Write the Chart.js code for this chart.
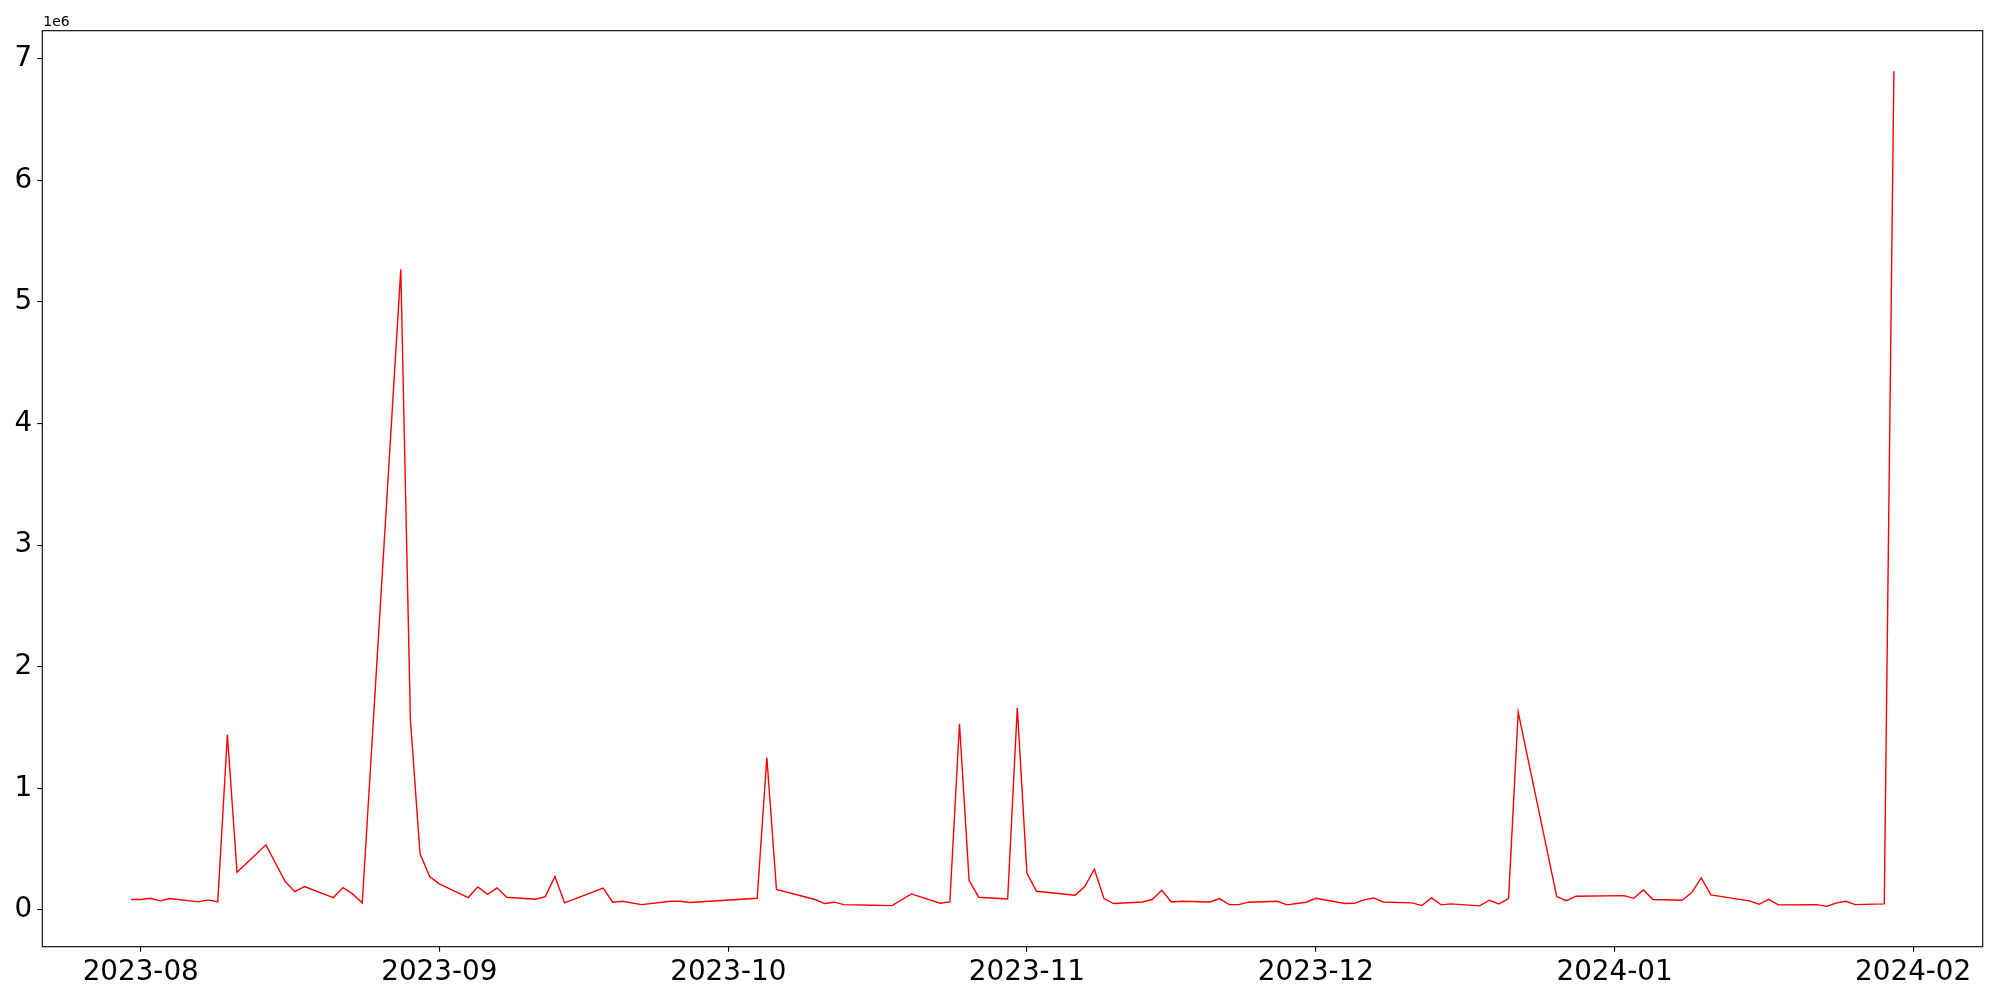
<!DOCTYPE html>
<html>
<head>
<meta charset="utf-8">
<script src="https://cdn.jsdelivr.net/npm/chart.js@4"></script>
<style>
    body { margin: 0; background: #fff; }
    #wrap { width: 2000px; height: 1000px; position: relative; }
</style>
</head>
<body>
<div id="wrap"><canvas id="volumeChart"></canvas></div>
<script>
// trading days
const dates = [
    '2023-07-31','2023-08-01','2023-08-02','2023-08-03','2023-08-04','2023-08-07','2023-08-08','2023-08-09',
    '2023-08-10','2023-08-11','2023-08-14','2023-08-16','2023-08-17','2023-08-18','2023-08-21','2023-08-22',
    '2023-08-23','2023-08-24','2023-08-28','2023-08-29','2023-08-30','2023-08-31','2023-09-01','2023-09-04',
    '2023-09-05','2023-09-06','2023-09-07','2023-09-08','2023-09-11','2023-09-12','2023-09-13','2023-09-14',
    '2023-09-18','2023-09-19','2023-09-20','2023-09-22','2023-09-25','2023-09-26','2023-09-27','2023-10-04',
    '2023-10-05','2023-10-06','2023-10-10','2023-10-11','2023-10-12','2023-10-13','2023-10-16','2023-10-18',
    '2023-10-20','2023-10-23','2023-10-24','2023-10-25','2023-10-26','2023-10-27','2023-10-30','2023-10-31',
    '2023-11-01','2023-11-02','2023-11-06','2023-11-07','2023-11-08','2023-11-09','2023-11-10','2023-11-13',
    '2023-11-14','2023-11-15','2023-11-16','2023-11-17','2023-11-20','2023-11-21','2023-11-22','2023-11-23',
    '2023-11-24','2023-11-27','2023-11-28','2023-11-29','2023-11-30','2023-12-01','2023-12-04','2023-12-05',
    '2023-12-06','2023-12-07','2023-12-08','2023-12-11','2023-12-12','2023-12-13','2023-12-14','2023-12-15',
    '2023-12-18','2023-12-19','2023-12-20','2023-12-21','2023-12-22','2023-12-26','2023-12-27','2023-12-28',
    '2024-01-02','2024-01-03','2024-01-04','2024-01-05','2024-01-08','2024-01-09','2024-01-10','2024-01-11',
    '2024-01-15','2024-01-16','2024-01-17','2024-01-18','2024-01-22','2024-01-23','2024-01-24','2024-01-25',
    '2024-01-26','2024-01-29','2024-01-30'
];

const volumes = [
    86000, 86000, 96000, 75000, 94000, 67000, 83000, 67000,
    1441000, 310000, 536000, 234000, 151000, 193000, 102000, 184000,
    132000, 58000, 5268000, 1560000, 462000, 275000, 215000, 102000,
    190000, 129000, 182000, 105000, 88000, 110000, 275000, 58000,
    179000, 64000, 72000, 44000, 72000, 72000, 61000, 96000,
    1254000, 168000, 86000, 53000, 64000, 44000, 39000, 36000,
    132000, 55000, 66000, 1531000, 242000, 105000, 91000, 1663000,
    302000, 154000, 121000, 193000, 335000, 94000, 53000, 66000,
    86000, 162000, 66000, 72000, 66000, 94000, 44000, 44000,
    64000, 72000, 42000, 53000, 64000, 96000, 53000, 55000,
    83000, 99000, 66000, 58000, 36000, 99000, 42000, 50000,
    34000, 80000, 50000, 94000, 1627000, 110000, 77000, 113000,
    118000, 96000, 165000, 86000, 80000, 141000, 264000, 124000,
    75000, 47000, 88000, 42000, 44000, 30000, 56000, 72000,
    44000, 50000, 6897000
];

const monthTicks = ['2023-08-01','2023-09-01','2023-10-01','2023-11-01','2023-12-01','2024-01-01','2024-02-01'];
const yTicks = [0, 1, 2, 3, 4, 5, 6, 7];

function toMs(s) {
    const p = s.split('-').map(Number);
    return Date.UTC(p[0], p[1] - 1, p[2]);
}

const DAY = 86400000;
const aug1 = toMs('2023-08-01');
const FONT = "'DejaVu Sans', sans-serif";

// matplotlib-like box around the plot area + offset text
const framePlugin = {
    id: 'frame',
    afterDraw(chart) {
        const { ctx, chartArea: a } = chart;
        ctx.save();
        ctx.strokeStyle = '#000';
        ctx.lineWidth = 1.1;
        ctx.strokeRect(a.left, a.top, a.right - a.left, a.bottom - a.top);
        ctx.fillStyle = '#000';
        ctx.font = '14px ' + FONT;
        ctx.textBaseline = 'alphabetic';
        ctx.fillText('1e6', a.left + 1, 26);
        ctx.restore();
    }
};

const ctx = document.getElementById('volumeChart').getContext('2d');
new Chart(ctx, {
    type: 'line',
    data: {
        datasets: [{
            data: dates.map((d, i) => ({ x: toMs(d), y: volumes[i] })),
            borderColor: '#ff0000',
            borderWidth: 1.4,
            pointRadius: 0,
            tension: 0,
            fill: false
        }]
    },
    options: {
        responsive: true,
        maintainAspectRatio: false,
        animation: false,
        layout: { padding: { top: 30.7, right: 17.3, left: 0, bottom: 0 } },
        plugins: {
            legend: { display: false },
            tooltip: { enabled: false }
        },
        scales: {
            x: {
                type: 'linear',
                min: aug1 - 10.215 * DAY,
                max: aug1 + 191.22 * DAY,
                afterBuildTicks: (scale) => {
                    scale.ticks = monthTicks.map(m => ({ value: toMs(m) }));
                },
                afterFit: (scale) => { scale.height = 53.3; },
                border: { display: false },
                grid: { drawOnChartArea: false, drawTicks: true, tickLength: 5, color: '#000', lineWidth: 1.1 },
                ticks: {
                    autoSkip: false,
                    maxRotation: 0,
                    padding: 4,
                    color: '#000',
                    font: { family: FONT, size: 27.8 },
                    callback: (v) => {
                        const d = new Date(v);
                        return d.getUTCFullYear() + '-' + String(d.getUTCMonth() + 1).padStart(2, '0');
                    }
                }
            },
            y: {
                min: -302000,
                max: 7231000,
                afterBuildTicks: (scale) => {
                    scale.ticks = yTicks.map(t => ({ value: t * 1e6 }));
                },
                afterFit: (scale) => { scale.width = 42.3; },
                border: { display: false },
                grid: { drawOnChartArea: false, drawTicks: true, tickLength: 5, color: '#000', lineWidth: 1.1 },
                ticks: {
                    autoSkip: false,
                    padding: 5,
                    color: '#000',
                    font: { family: FONT, size: 27.8 },
                    callback: (v) => String(Math.round(v / 1e6))
                }
            }
        }
    },
    plugins: [framePlugin]
});
</script>
</body>
</html>
